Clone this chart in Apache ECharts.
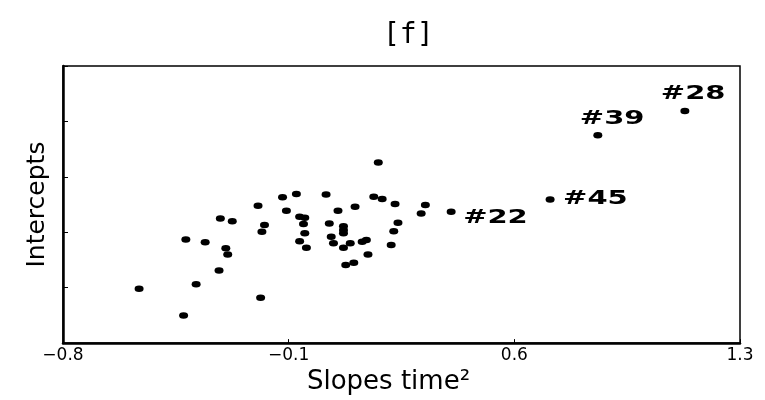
<!DOCTYPE html>
<html>
<head>
<meta charset="utf-8">
<script src="https://cdn.jsdelivr.net/npm/echarts@6/dist/echarts.min.js"></script>
<style>html,body{margin:0;padding:0;background:#fff}#c{width:765px;height:400px}</style>
</head>
<body>
<div id="c"></div>
<script>
// ---- data ----
const titleText = '[f]';
const xAxisName = 'Slopes time\u00B2';
const yAxisName = 'Intercepts';
const xTickLabels = ['\u22120.8', '\u22120.1', '0.6', '1.3'];
const slopes = [
  -0.564, -0.426, -0.387, -0.419, -0.359, -0.316, -0.295, -0.289, -0.312, -0.275,
  -0.187, -0.195, -0.175, -0.183, -0.119, -0.076, -0.107, -0.066, -0.050, -0.054,
  -0.050, -0.066, -0.045, 0.016, 0.053, 0.026, 0.032, 0.039, 0.070, 0.070,
  0.070, 0.070, 0.091, 0.106, 0.077, 0.102, 0.128, 0.141, 0.146, 0.178,
  0.164, 0.190, 0.230, 0.239, 0.226, 0.218, 0.324, 0.311,
  0.404, 0.711, 0.859, 1.129
];
const intercepts = [
  0.98, 0.50, 1.06, 1.87, 1.82, 1.31, 1.71, 1.60, 2.25, 2.20,
  0.82, 2.48, 2.13, 2.01, 2.63, 2.69, 2.39, 2.28, 2.26, 2.15,
  1.98, 1.84, 1.72, 2.68, 2.39, 2.16, 1.92, 1.80, 2.11, 2.04,
  1.98, 1.72, 1.80, 2.46, 1.41, 1.45, 1.83, 1.86, 1.60, 3.26,
  2.64, 2.60, 2.51, 2.17, 2.02, 1.77, 2.49, 2.34,
  2.37, 2.59, 3.75, 4.19
];
const labelIds = ['#22', '#45', '#39', '#28'];
const labelSlopes = [0.404, 0.711, 0.859, 1.129];
const labelIntercepts = [2.37, 2.59, 3.75, 4.19];

// ---- styling (label placement offsets in px, relative to the point) ----
const labelOffsets = { '#22': [12, 6], '#45': [13, -1], '#39': [-18, -16], '#28': [-24, -17] };

const points = slopes.map((s, i) => [s, intercepts[i]]);
const labelData = labelIds.map((t, i) => [labelSlopes[i], labelIntercepts[i], t]);

const chart = echarts.init(document.getElementById('c'), null, { renderer: 'canvas' });
chart.setOption({
  backgroundColor: '#fff',
  animation: false,
  title: {
    text: titleText, left: 378, top: 17,
    textStyle: { fontFamily: 'DejaVu Sans Mono', fontSize: 28, fontWeight: 'normal', color: '#000' }
  },
  grid: { left: 63, right: 25, top: 66, bottom: 50, show: true, borderColor: '#000', borderWidth: 1.5, backgroundColor: 'transparent' },
  xAxis: {
    type: 'value', min: -0.8, max: 1.3, interval: 0.7,
    name: xAxisName, nameLocation: 'middle', nameGap: 18,
    nameTextStyle: { fontFamily: 'DejaVu Sans', fontSize: 26, color: '#000', padding: [0, 26, 0, 0] },
    axisLine: { show: true, onZero: false, lineStyle: { color: '#000', width: 2.5 } },
    axisTick: { show: true, inside: true, length: 4, lineStyle: { color: '#000', width: 1 } },
    axisLabel: {
      margin: 4, fontFamily: 'DejaVu Sans', fontSize: 17, color: '#000',
      formatter: (v, i) => xTickLabels[i] !== undefined ? xTickLabels[i] : ''
    },
    splitLine: { show: false }
  },
  yAxis: {
    type: 'value', min: 0, max: 5, interval: 1,
    name: yAxisName, nameLocation: 'middle', nameGap: 13,
    nameTextStyle: { fontFamily: 'DejaVu Sans', fontSize: 25, color: '#000' },
    axisLine: { show: true, onZero: false, lineStyle: { color: '#000', width: 2.5 } },
    axisTick: { show: true, inside: true, length: 5, lineStyle: { color: '#000', width: 1 } },
    axisLabel: { show: false },
    splitLine: { show: false }
  },
  series: [
    {
      type: 'scatter', data: points, symbol: 'circle', symbolSize: [9, 6.5],
      itemStyle: { color: '#000', opacity: 1 }, silent: true
    },
    {
      type: 'custom', data: labelData, silent: true,
      encode: { x: 0, y: 1 },
      renderItem: (params, api) => {
        const t = labelIds[params.dataIndex];
        const p = api.coord([api.value(0), api.value(1)]);
        const o = labelOffsets[t] || [8, 0];
        return {
          type: 'text', x: p[0] + o[0], y: p[1] + o[1], scaleX: 1.45,
          style: { text: t, fill: '#000', font: 'bold 20px "DejaVu Sans"', align: 'left', verticalAlign: 'middle' }
        };
      }
    }
  ]
});
</script>
</body>
</html>
